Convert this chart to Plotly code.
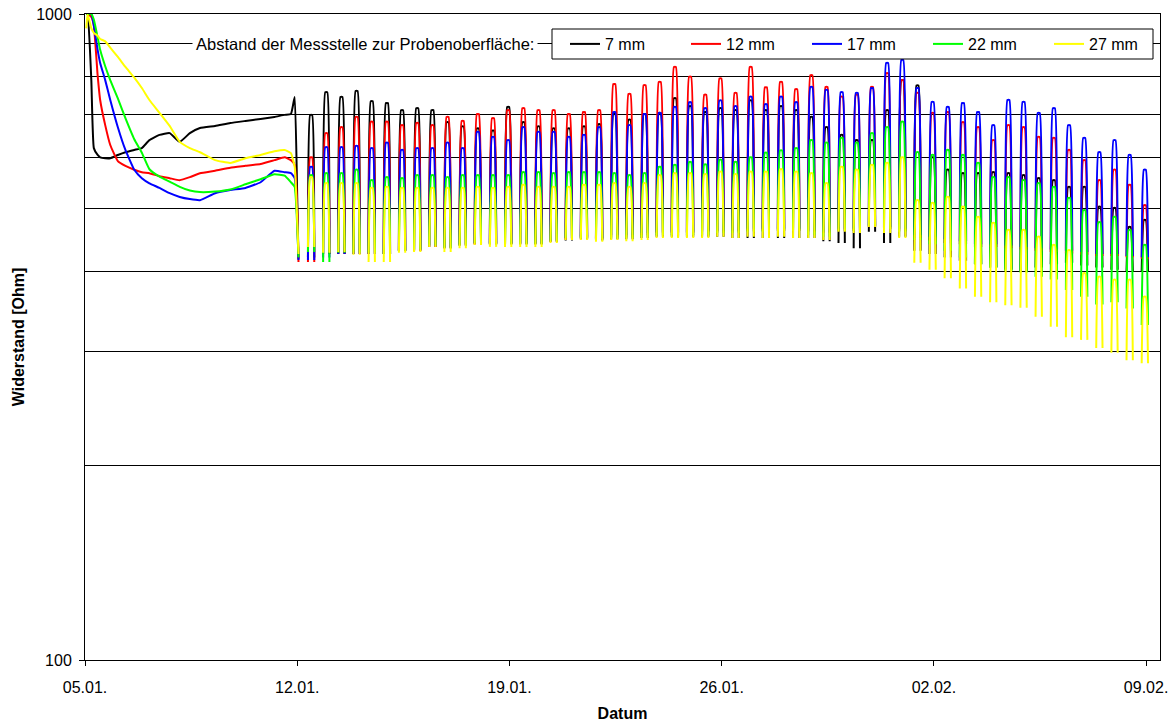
import pandas as pd
import plotly.graph_objects as go

# ---------------- data (Ohm) ----------------
series_names = ["7 mm", "12 mm", "17 mm", "22 mm", "27 mm"]
series_colors = ["#000000", "#FF0000", "#0000FF", "#00FF00", "#FFFF00"]

# initial phase: hours after 05.01. 00:00
init_hours = [1, 2, 5, 7, 10, 12, 16, 20, 26, 32, 39, 45, 51, 59, 67, 75, 83, 91,
              103, 115, 127, 139, 150, 158, 163, 166, 168, 169]
init_7 = [1000, 1000, 790, 620, 605, 600, 598, 598, 605, 611, 616, 620, 638, 650, 654, 634,
          654, 666, 671, 678, 683, 688, 693, 698, 700, 744, 520, 418]
init_12 = [1000, 1000, 990, 960, 804, 736, 673, 627, 592, 582, 574, 569, 567, 561, 557, 553,
           559, 567, 572, 578, 582, 586, 594, 600, 594, 584, 500, 413]
init_17 = [1000, 1000, 1000, 960, 880, 840, 790, 736, 668, 616, 574, 557, 547, 538, 528, 521,
           517, 515, 528, 534, 538, 549, 572, 569, 567, 557, 480, 416]
init_22 = [1000, 1000, 1000, 980, 920, 880, 830, 790, 740, 690, 640, 610, 575, 560, 550, 540,
           533, 530, 531, 535, 545, 555, 565, 562, 549, 540, 470, 420]
init_27 = [950, 1000, 950, 935, 925, 915, 907, 887, 858, 828, 797, 768, 736, 703, 671, 634,
           620, 611, 594, 588, 598, 605, 613, 616, 609, 580, 480, 425]

# wetting/drying cycles from 12.01. 11:00, every 12 h: peak and trough per cycle
cycle_first = "2010-01-12 11:00"
n_cycles = 56

peak_7 = [698, 757, 744, 760, 733, 728, 710, 715, 710, 680, 670, 665, 660, 718, 680, 670, 665, 665,
          670, 675, 700, 686, 700, 703, 741, 720, 705, 715, 710, 735, 710, 720, 710, 693, 668, 650,
          638, 638, 710, 790, 775, 600, 574, 567, 567, 569, 567, 563, 557, 553, 540, 540, 503, 501,
          468, 480]
peak_12 = [600, 654, 668, 693, 681, 681, 673, 678, 673, 693, 683, 700, 690, 710, 715, 710, 710, 700,
           705, 710, 779, 752, 776, 785, 828, 800, 750, 795, 755, 828, 770, 785, 765, 804, 771, 745,
           750, 771, 810, 790, 755, 703, 705, 680, 668, 638, 673, 668, 645, 643, 616, 594, 553, 574,
           544, 506]
peak_17 = [580, 622, 622, 625, 620, 632, 616, 620, 620, 632, 620, 657, 645, 638, 668, 657, 657, 645,
           650, 668, 705, 673, 700, 703, 718, 730, 715, 735, 720, 745, 725, 745, 730, 771, 763, 757,
           755, 768, 840, 849, 768, 731, 718, 728, 705, 673, 736, 731, 703, 715, 673, 643, 611, 638,
           605, 574]
peak_22 = [563, 567, 567, 574, 553, 559, 557, 563, 563, 559, 563, 563, 563, 563, 569, 569, 567, 569,
           569, 569, 567, 563, 567, 580, 584, 590, 585, 595, 590, 600, 610, 615, 620, 638, 632, 643,
           632, 654, 668, 681, 611, 605, 616, 605, 588, 559, 559, 553, 547, 540, 519, 497, 476, 485,
           463, 439]
peak_27 = [559, 547, 547, 547, 538, 540, 538, 538, 538, 538, 538, 540, 538, 540, 544, 540, 540, 540,
           544, 544, 547, 540, 547, 563, 567, 567, 565, 570, 565, 570, 570, 575, 570, 567, 547, 580,
           574, 584, 588, 600, 515, 510, 521, 503, 485, 475, 463, 463, 452, 439, 431, 397, 392, 388,
           388, 365]

trough_7 = [420, 425, 425, 425, 425, 425, 430, 430, 436, 434, 438, 440, 440, 440, 440, 440, 444, 446,
            448, 446, 448, 448, 450, 452, 452, 452, 452, 452, 450, 450, 450, 450, 450, 450, 445, 442,
            434, 460, 442, 452, 430, 425, 420, 415, 410, 405, 402, 400, 405, 410, 412, 408, 405, 402,
            400, 400]
trough_12 = [413, 425, 425, 425, 425, 425, 430, 430, 436, 434, 438, 440, 440, 440, 440, 440, 444, 448,
             450, 448, 452, 452, 455, 458, 458, 458, 460, 460, 460, 462, 462, 462, 462, 460, 458, 462,
             462, 468, 465, 462, 450, 446, 442, 440, 436, 436, 434, 432, 430, 428, 426, 424, 422, 422,
             420, 418]
trough_17 = [416, 420, 425, 425, 425, 425, 430, 432, 438, 436, 440, 442, 442, 442, 442, 442, 446, 450,
             452, 450, 455, 455, 458, 460, 460, 460, 462, 462, 462, 465, 465, 465, 465, 462, 460, 465,
             465, 470, 468, 465, 455, 452, 448, 445, 440, 440, 438, 436, 434, 432, 430, 428, 425, 425,
             422, 420]
trough_22 = [428, 413, 427, 427, 427, 425, 430, 432, 438, 434, 438, 442, 440, 440, 440, 440, 445, 450,
             450, 448, 450, 450, 452, 455, 455, 455, 455, 458, 458, 460, 460, 462, 462, 455, 452, 462,
             462, 470, 465, 460, 447, 440, 430, 420, 410, 405, 400, 398, 392, 388, 374, 365, 355, 358,
             350, 330]
trough_27 = [436, 427, 428, 424, 413, 413, 427, 428, 436, 428, 434, 439, 436, 436, 436, 436, 442, 447,
             447, 444, 447, 445, 447, 450, 450, 450, 450, 452, 450, 452, 450, 452, 450, 450, 447, 460,
             458, 468, 458, 450, 412, 402, 390, 376, 365, 358, 354, 351, 340, 328, 316, 313, 304, 299,
             291, 288]

x_ticks = ["2010-01-05", "2010-01-12", "2010-01-19", "2010-01-26", "2010-02-02", "2010-02-09"]
y_ticks = [100, 1000]
y_grid = [200, 300, 400, 500, 600, 700, 800, 900]

# ---------------- build ----------------
base = pd.Timestamp("2010-01-05")
init_times = [base + pd.Timedelta(hours=h) for h in init_hours]
centres = pd.date_range(cycle_first, periods=n_cycles, freq="12h")
leg = pd.Timedelta(hours=2.5)
top = pd.Timedelta(hours=0.8)

inits = [init_7, init_12, init_17, init_22, init_27]
peaks = [peak_7, peak_12, peak_17, peak_22, peak_27]
troughs = [trough_7, trough_12, trough_17, trough_22, trough_27]

fig = go.Figure()
for name, col, iv, pk, tr in zip(series_names, series_colors, inits, peaks, troughs):
    xs = list(init_times) + [None]
    ys = list(iv) + [None]
    for t, p, q in zip(centres, pk, tr):
        xs += [t - leg, t - top, t + top, t + leg, None]
        ys += [q, p, p, q, None]
    fig.add_trace(go.Scatter(x=xs, y=ys, mode="lines", name=name,
                             line=dict(color=col, width=2, shape="spline", smoothing=0.4),
                             connectgaps=False))

FONT = "Liberation Sans, Arial, sans-serif"
L, R, T, B = 85, 14, 14, 64
W, H = 1174, 724
pw, ph = W - L - R, H - T - B

def px(xp):
    return (xp - L) / pw

def py(yp):
    return (H - B - yp) / ph

fig.update_layout(
    width=W, height=H,
    margin=dict(l=L, r=R, t=T, b=B, autoexpand=False),
    paper_bgcolor="white", plot_bgcolor="white",
    font=dict(family=FONT, size=16, color="black"),
    showlegend=True,
    legend=dict(orientation="h", x=px(565), xanchor="left", y=py(44), yanchor="middle",
                bgcolor="rgba(0,0,0,0)", borderwidth=0, entrywidth=76, entrywidthmode="pixels",
                font=dict(family=FONT, size=16), tracegroupgap=0),
    shapes=[dict(type="rect", xref="paper", yref="paper", x0=px(552), x1=px(1153),
                 y0=py(59), y1=py(29), line=dict(color="black", width=1),
                 fillcolor="white", layer="above")],
    annotations=[dict(text="Abstand der Messstelle zur Probenoberfläche:", xref="paper", yref="paper",
                      x=px(538), y=py(44), xanchor="right", yanchor="middle", showarrow=False,
                      bgcolor="white", borderpad=3, font=dict(family=FONT, size=16.5))],
)

fig.update_xaxes(type="date", range=["2010-01-05 00:00", "2010-02-09 11:00"],
                 tickvals=x_ticks, tickformat="%d.%m.", ticks="outside", ticklen=5,
                 tickcolor="black", showgrid=False, showline=True, linecolor="black",
                 linewidth=1, mirror=True, zeroline=False, ticklabelstandoff=8,
                 title=dict(text="<b>Datum</b>", font=dict(size=16), standoff=12),
                 tickfont=dict(size=16))
fig.update_yaxes(type="log", range=[2, 3], tickvals=y_ticks, ticktext=[str(v) for v in y_ticks],
                 ticks="outside", ticklen=5, tickcolor="black", ticklabelstandoff=4,
                 showgrid=False, showline=True, linecolor="black", linewidth=1, mirror=True,
                 minor=dict(tickvals=y_grid, showgrid=True, gridcolor="black", gridwidth=1, ticks=""),
                 title=dict(text="<b>Widerstand [Ohm]</b>", font=dict(size=16), standoff=7),
                 tickfont=dict(size=16))

fig.write_html("out.html")
